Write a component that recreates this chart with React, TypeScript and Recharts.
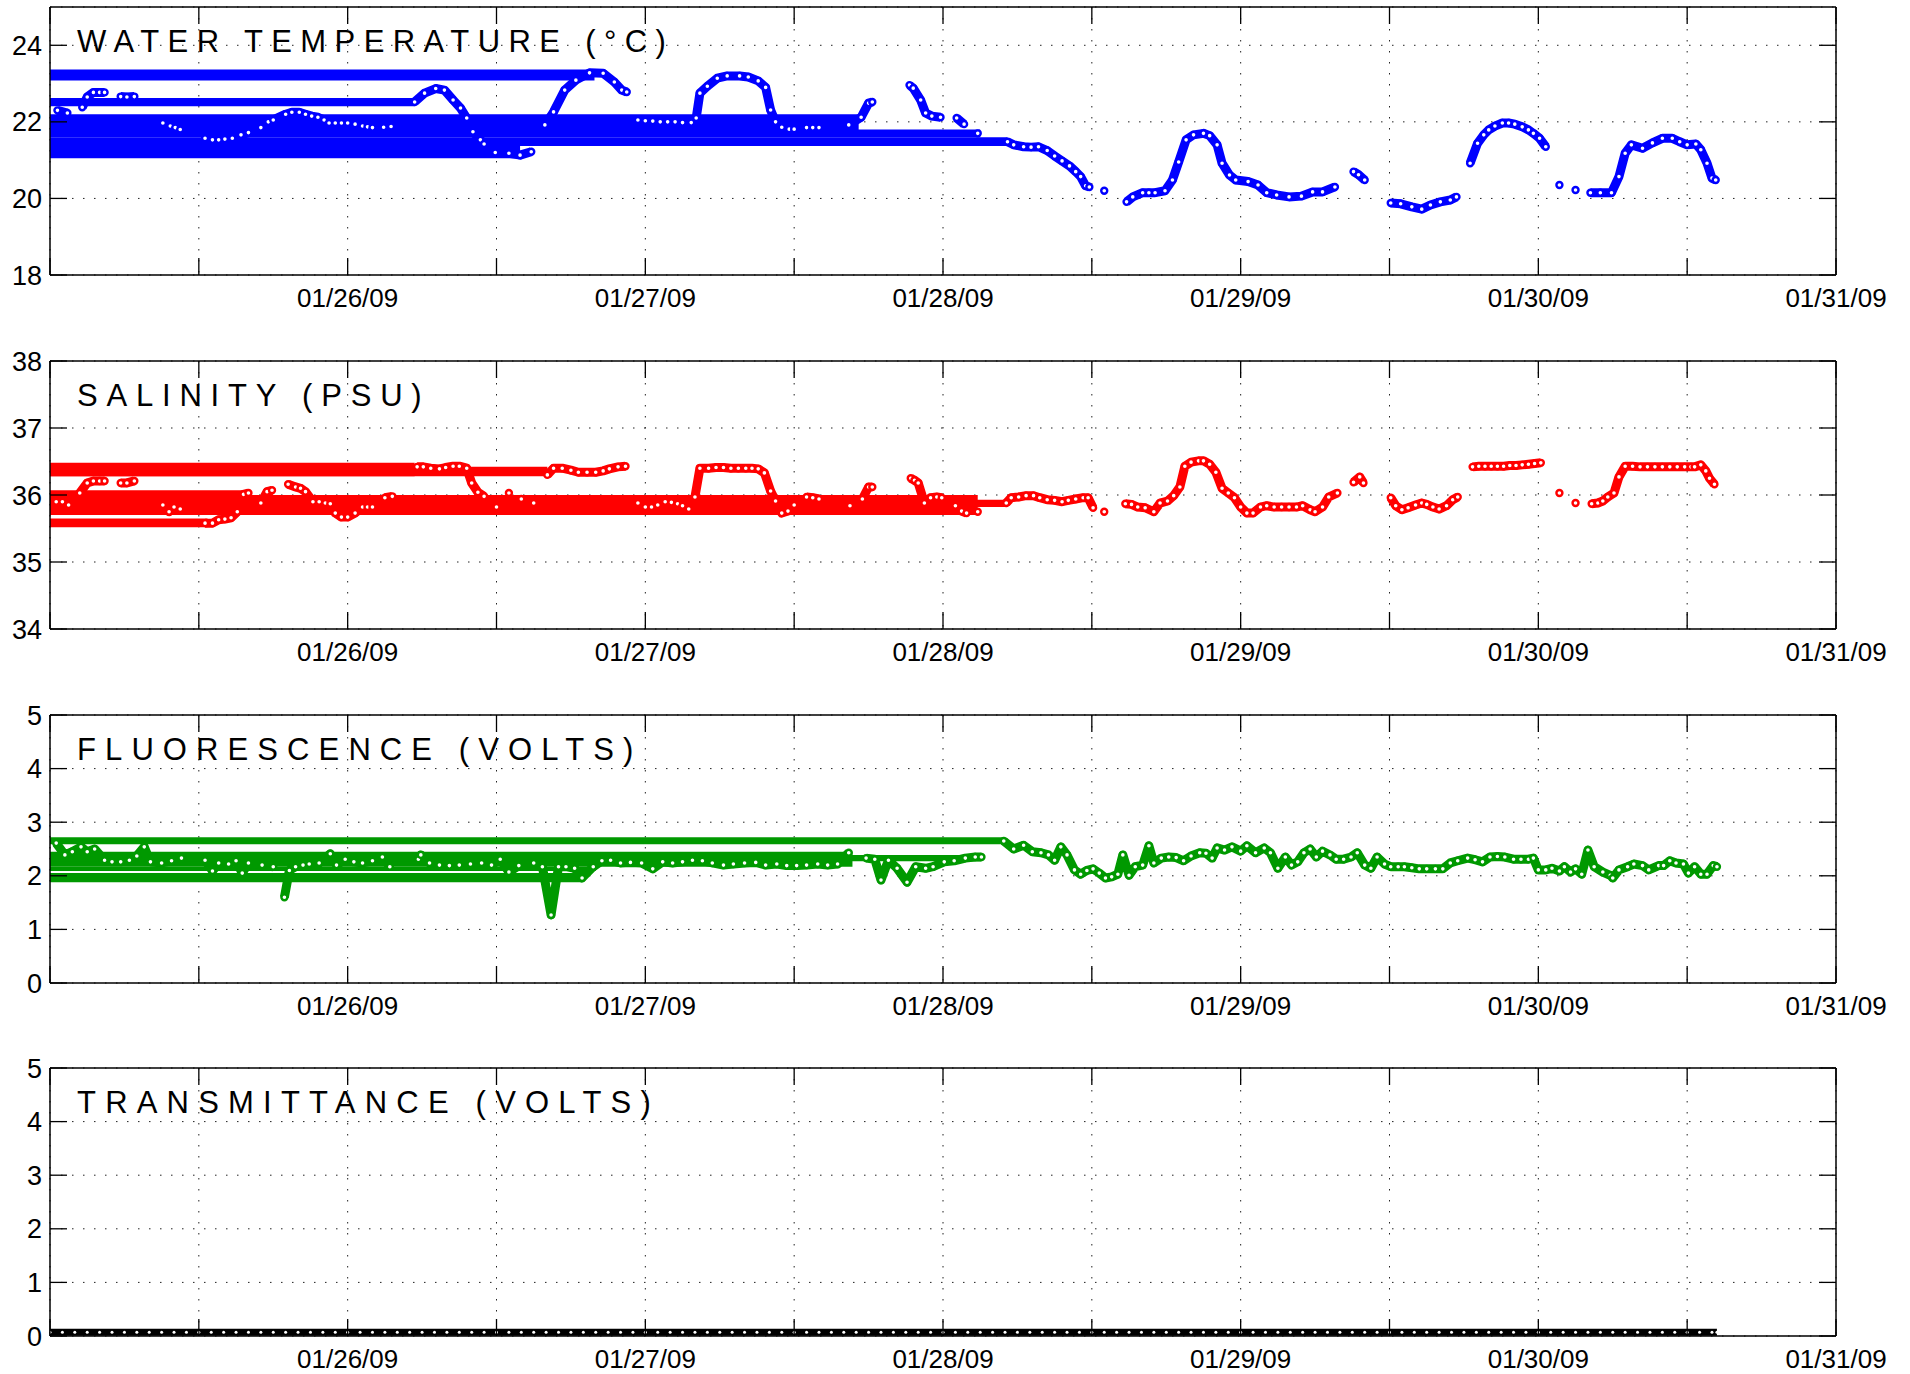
import React from 'react';
import { LineChart, Line, XAxis, YAxis, CartesianGrid, ReferenceArea } from 'recharts';

// hours since 01/25/09 00:00, value
type Pt = [number, number];
// [x1, x2, y1, y2] : horizontal bands left by the wrapped-back line
type Band = [number, number, number, number];

const HALF_DAY_TICKS = [0, 12, 24, 36, 48, 60, 72, 84, 96, 108, 120, 132, 144];
const DAY_TICKS = [24, 48, 72, 96, 120, 144];
const DAY_LABELS = ['01/26/09', '01/27/09', '01/28/09', '01/29/09', '01/30/09', '01/31/09'];

const TEMP_TICKS = [18, 20, 22, 24];
const SAL_TICKS = [34, 35, 36, 37, 38];
const VOLT_TICKS = [0, 1, 2, 3, 4, 5];

const TEMP_BANDS: Band[] = [
  [0, 43.9, 23.08, 23.37],
  [0, 29.4, 22.41, 22.62],
  [0, 65.2, 21.62, 22.2],
  [0, 75, 21.6, 21.8],
  [0, 77.2, 21.37, 21.6],
  [0, 37.9, 21.05, 21.37],
];

const TEMP_SEGMENTS: Pt[][] = [
  [[0.6, 22.3], [1.4, 22.23]],
  [[2.6, 22.38], [3.0, 22.65], [3.5, 22.77], [4.0, 22.77], [4.4, 22.77]],
  [[5.7, 22.66], [6.2, 22.65], [6.8, 22.66]],
  [[9.1, 21.97], [9.7, 21.89], [10.1, 21.85], [10.5, 21.8]],
  [[12.5, 21.57], [13.1, 21.53], [13.6, 21.53], [14.1, 21.55], [14.7, 21.57], [15.4, 21.66], [16.0, 21.72],
    [17.0, 21.85], [17.6, 22.0], [18.0, 22.05], [19.0, 22.2], [19.5, 22.25], [20.1, 22.25], [20.6, 22.2],
    [21.1, 22.15], [21.6, 22.12], [22.1, 22.05], [22.5, 21.97], [23.0, 21.97], [23.5, 21.97], [24.0, 21.97],
    [24.6, 21.94], [25.2, 21.89], [25.6, 21.87], [26.0, 21.85]],
  [[26.9, 21.86], [27.5, 21.88]],
  [[29.4, 22.52], [30.2, 22.75], [31.1, 22.87], [31.8, 22.83], [32.5, 22.57], [33.1, 22.36], [33.6, 22.1],
    [34.1, 21.74], [34.7, 21.53], [35.0, 21.42], [35.9, 21.2], [37.0, 21.18], [37.9, 21.13], [38.8, 21.22]],
  [[39.9, 21.92], [40.6, 22.26], [41.5, 22.83], [42.4, 23.09], [43.5, 23.28], [44.6, 23.27], [45.5, 23.04],
    [46.1, 22.83], [46.5, 22.78]],
  [[47.4, 22.05], [48.0, 22.03], [48.6, 22.02], [49.2, 22.0], [49.8, 22.0], [50.4, 22.0], [51.0, 21.98],
    [51.7, 21.98], [52.1, 22.1], [52.4, 22.75], [53.0, 22.93], [53.8, 23.14], [54.6, 23.2], [55.6, 23.2],
    [56.3, 23.17], [57.1, 23.07], [57.7, 22.9], [58.1, 22.31], [58.5, 22.0], [59.0, 21.86], [59.6, 21.81], [60.0, 21.81]],
  [[61.0, 21.85], [61.5, 21.85], [62.0, 21.85]],
  [[64.4, 21.92], [65.4, 22.12], [66.0, 22.49], [66.3, 22.52]],
  [[69.3, 22.96], [69.6, 22.88], [70.2, 22.57], [70.6, 22.23], [71.1, 22.15], [71.8, 22.12]],
  [[73.1, 22.1], [73.7, 21.94]],
  [[74.8, 21.7]],
  [[77.2, 21.48], [77.7, 21.4], [78.5, 21.35], [79.1, 21.34], [79.7, 21.35], [80.4, 21.25], [81.0, 21.11],
    [81.6, 20.98], [82.2, 20.85], [82.7, 20.7], [83.1, 20.57], [83.5, 20.33], [83.8, 20.3]],
  [[85.0, 20.2]],
  [[86.8, 19.91], [87.3, 20.04], [88.1, 20.15], [88.6, 20.15], [89.1, 20.15], [89.9, 20.2], [90.5, 20.48],
    [91.0, 20.95], [91.6, 21.53], [92.2, 21.66], [93.0, 21.7], [93.5, 21.64], [94.1, 21.4], [94.5, 20.92],
    [95.1, 20.61], [95.6, 20.48], [96.6, 20.44], [97.4, 20.35], [98.1, 20.15], [98.9, 20.09], [99.9, 20.04],
    [100.9, 20.06], [101.8, 20.17], [102.6, 20.17], [103.6, 20.3]],
  [[105.1, 20.7], [105.5, 20.62], [106.0, 20.48]],
  [[108.1, 19.88], [108.9, 19.86], [109.8, 19.78], [110.6, 19.72], [111.3, 19.83], [112.1, 19.91],
    [112.9, 19.96], [113.4, 20.04]],
  [[114.5, 20.92], [115.1, 21.44], [115.6, 21.66], [116.0, 21.79], [116.5, 21.89], [117.1, 21.97],
    [117.6, 21.97], [118.1, 21.94], [118.7, 21.87], [119.2, 21.79], [119.6, 21.7], [120.1, 21.57], [120.6, 21.35]],
  [[121.7, 20.35]],
  [[123.0, 20.22]],
  [[124.2, 20.15], [125.0, 20.15], [125.9, 20.15], [126.5, 20.57], [127.0, 21.18], [127.5, 21.4], [128.4, 21.31],
    [129.2, 21.45], [130.0, 21.57], [130.8, 21.57], [131.4, 21.48], [132.0, 21.4], [132.7, 21.42], [133.1, 21.27],
    [133.6, 20.92], [134.0, 20.53], [134.3, 20.48]],
];

const SAL_BANDS: Band[] = [
  [0, 29.4, 36.28, 36.48],
  [0, 40.1, 36.28, 36.42],
  [0, 16, 35.97, 36.07],
  [0, 74.8, 35.7, 36.0],
  [0, 77.2, 35.82, 35.93],
  [0, 12.7, 35.52, 35.65],
];

const SAL_SEGMENTS: Pt[][] = [
  [[0.5, 35.9], [1.0, 35.9], [1.5, 35.85], [2.4, 36.03], [3.0, 36.18], [3.5, 36.21], [4.0, 36.21], [4.4, 36.21]],
  [[5.7, 36.18], [6.2, 36.18], [6.8, 36.21]],
  [[9.1, 35.85], [9.6, 35.75], [10.0, 35.82], [10.5, 35.79]],
  [[12.5, 35.58], [13.1, 35.58], [13.6, 35.63], [14.1, 35.64], [14.6, 35.66], [15.1, 35.75], [15.6, 36.01], [16.0, 36.03]],
  [[17.0, 35.88], [17.5, 36.05], [17.9, 36.07]],
  [[19.2, 36.16], [19.8, 36.12], [20.2, 36.1], [20.6, 36.05], [21.2, 35.9], [21.7, 35.9], [22.2, 35.88],
    [22.6, 35.87], [23.0, 35.73], [23.5, 35.67], [24.0, 35.67], [24.6, 35.73], [25.2, 35.82], [25.6, 35.82], [26.0, 35.82]],
  [[27.0, 35.96], [27.6, 35.98]],
  [[29.6, 36.42], [30.1, 36.42], [30.7, 36.4], [31.4, 36.39], [31.9, 36.41], [32.5, 36.43], [33.0, 36.43],
    [33.6, 36.4], [34.0, 36.18], [34.5, 36.04], [35.0, 35.98]],
  [[36.0, 35.82]],
  [[37.0, 36.03]],
  [[38.0, 35.94]],
  [[39.0, 35.88]],
  [[40.1, 36.3], [40.6, 36.4], [41.3, 36.4], [42.0, 36.37], [42.6, 36.34], [43.3, 36.34], [44.0, 36.34],
    [44.6, 36.36], [45.1, 36.39], [45.8, 36.42], [46.4, 36.43]],
  [[47.4, 35.88], [48.0, 35.82], [48.5, 35.82], [49.0, 35.85], [49.6, 35.9], [50.1, 35.89], [50.6, 35.87],
    [51.0, 35.84], [51.5, 35.79], [52.0, 35.97], [52.4, 36.4], [53.1, 36.4], [53.7, 36.41], [54.3, 36.41],
    [54.9, 36.4], [55.5, 36.4], [56.1, 36.4], [56.6, 36.4], [57.1, 36.39], [57.6, 36.33], [58.1, 36.06],
    [58.5, 35.91], [59.0, 35.73], [59.5, 35.76], [60.0, 35.85]],
  [[61.0, 35.97], [61.5, 35.96], [62.0, 35.94]],
  [[64.5, 35.84], [65.5, 35.94], [66.0, 36.12], [66.3, 36.12]],
  [[69.4, 36.25], [69.7, 36.22], [70.0, 36.18], [70.5, 35.88], [71.0, 35.96], [71.5, 35.97], [71.9, 35.96]],
  [[73.0, 35.84], [73.5, 35.76], [73.9, 35.73]],
  [[74.8, 35.75]],
  [[77.1, 35.88], [77.5, 35.96], [78.1, 35.97], [78.7, 35.99], [79.3, 35.99], [79.8, 35.96], [80.4, 35.93],
    [81.0, 35.92], [81.6, 35.9], [82.1, 35.92], [82.7, 35.94], [83.3, 35.96], [83.7, 35.96], [84.1, 35.81]],
  [[85.0, 35.75]],
  [[86.7, 35.87], [87.2, 35.86], [87.7, 35.82], [88.3, 35.81], [89.0, 35.75], [89.5, 35.88], [90.1, 35.91],
    [90.6, 35.99], [91.1, 36.12], [91.5, 36.43], [92.0, 36.49], [92.6, 36.51], [93.0, 36.51], [93.5, 36.46],
    [94.0, 36.34], [94.5, 36.1], [95.0, 36.03], [95.5, 35.96], [96.0, 35.82], [96.5, 35.73], [97.0, 35.73],
    [97.6, 35.82], [98.1, 35.84], [98.7, 35.82], [99.3, 35.82], [99.9, 35.82], [100.5, 35.82], [101.0, 35.84],
    [101.6, 35.78], [102.0, 35.75], [102.6, 35.82], [103.1, 35.97], [103.8, 36.03]],
  [[105.1, 36.19], [105.6, 36.27], [105.9, 36.18]],
  [[108.1, 35.96], [108.5, 35.84], [109.0, 35.78], [109.5, 35.81], [110.1, 35.85], [110.6, 35.88], [111.0, 35.86],
    [111.5, 35.82], [112.0, 35.79], [112.6, 35.84], [113.1, 35.93], [113.5, 35.97]],
  [[114.7, 36.42], [115.2, 36.43], [115.7, 36.43], [116.2, 36.43], [116.7, 36.43], [117.2, 36.43], [117.7, 36.44],
    [118.2, 36.44], [118.7, 36.45], [119.2, 36.46], [119.7, 36.47], [120.2, 36.48]],
  [[121.7, 36.03]],
  [[123.0, 35.88]],
  [[124.3, 35.87], [124.8, 35.88], [125.2, 35.91], [125.6, 35.97], [126.1, 36.03], [126.5, 36.27], [127.0, 36.43],
    [127.6, 36.43], [128.2, 36.42], [128.8, 36.42], [129.4, 36.42], [130.0, 36.42], [130.6, 36.42], [131.2, 36.42],
    [131.8, 36.42], [132.3, 36.42], [132.6, 36.42], [133.1, 36.45], [133.5, 36.36], [133.8, 36.25], [134.2, 36.16]],
];

const FLUO_BANDS: Band[] = [
  [0, 76.9, 2.59, 2.72],
  [0, 64.7, 2.17, 2.45],
  [0, 75.1, 2.27, 2.39],
  [0, 44, 2.09, 2.17],
  [0, 42.9, 1.88, 2.05],
];

const FLUO_SEGMENTS: Pt[][] = [
  [[0.5, 2.61], [1.2, 2.39], [1.8, 2.45], [2.5, 2.54], [3.0, 2.45], [3.6, 2.5], [4.4, 2.29], [5.0, 2.26],
    [5.7, 2.26], [6.4, 2.29], [7.0, 2.37], [7.6, 2.54], [8.1, 2.26], [9.0, 2.24], [9.8, 2.28], [10.6, 2.33]],
  [[12.5, 2.29], [13.1, 2.09], [13.6, 2.24], [14.4, 2.22], [15.0, 2.28], [15.5, 2.05], [16.0, 2.24], [17.1, 2.2], [18.0, 2.17]],
  [[18.9, 1.6], [19.3, 2.1], [19.8, 2.17], [20.4, 2.2], [20.9, 2.22], [21.7, 2.24], [22.6, 2.41], [23.1, 2.2],
    [23.8, 2.31], [24.5, 2.26], [25.2, 2.24], [26.0, 2.28], [26.8, 2.35], [27.4, 2.17]],
  [[29.7, 2.31], [29.9, 2.39], [30.6, 2.24], [31.4, 2.2], [32.2, 2.19], [33.0, 2.2], [33.9, 2.22], [34.8, 2.24],
    [35.6, 2.2], [36.3, 2.31], [37.0, 2.07], [37.8, 2.19], [39.0, 2.24], [39.7, 2.17], [40.4, 1.27], [41.0, 2.17],
    [41.6, 2.17], [42.3, 2.14], [42.9, 1.96], [43.8, 2.17], [44.5, 2.28], [45.2, 2.29], [46.0, 2.24], [46.8, 2.25],
    [47.7, 2.24], [48.6, 2.13], [49.4, 2.26], [50.2, 2.24], [51.0, 2.26], [51.8, 2.29], [52.6, 2.28], [53.4, 2.24],
    [54.3, 2.2], [55.1, 2.22], [56.0, 2.24], [56.9, 2.25], [57.7, 2.2], [58.6, 2.22], [59.4, 2.19], [60.2, 2.19],
    [61.0, 2.2], [61.9, 2.22], [62.7, 2.2], [63.5, 2.22], [64.4, 2.43]],
  [[65.8, 2.33], [66.5, 2.31], [67.0, 1.92], [67.6, 2.29], [68.3, 2.14], [69.1, 1.88], [69.8, 2.17], [70.6, 2.14],
    [71.2, 2.17], [72.1, 2.26], [72.9, 2.28], [73.8, 2.33], [74.6, 2.35], [75.1, 2.35]],
  [[76.9, 2.65], [77.7, 2.5], [78.5, 2.57], [79.2, 2.45], [79.9, 2.43], [80.5, 2.39], [81.0, 2.29], [81.5, 2.54],
    [82.0, 2.39], [82.6, 2.11], [83.1, 2.03], [83.6, 2.1], [84.1, 2.13], [84.6, 2.05], [85.1, 1.96], [85.6, 1.98],
    [86.1, 2.03], [86.5, 2.39], [87.0, 2.01], [87.5, 2.17], [88.1, 2.2], [88.6, 2.56], [89.0, 2.24], [89.6, 2.33],
    [90.2, 2.35], [90.8, 2.34], [91.4, 2.28], [92.0, 2.37], [92.7, 2.43], [93.2, 2.42], [93.7, 2.33], [94.1, 2.52],
    [94.7, 2.48], [95.3, 2.54], [96.0, 2.46], [96.5, 2.56], [97.2, 2.43], [97.9, 2.52], [98.4, 2.43], [99.0, 2.14],
    [99.6, 2.35], [100.1, 2.2], [100.6, 2.26], [101.1, 2.43], [101.6, 2.5], [102.1, 2.35], [102.6, 2.46], [103.2, 2.39],
    [103.7, 2.31], [104.3, 2.31], [104.9, 2.35], [105.4, 2.43], [106.0, 2.2], [106.5, 2.14], [107.0, 2.35], [107.6, 2.22],
    [108.1, 2.17], [108.7, 2.17], [109.2, 2.17], [109.8, 2.15], [110.4, 2.13], [111.0, 2.13], [111.7, 2.13], [112.3, 2.13],
    [112.9, 2.24], [113.5, 2.28], [114.3, 2.33], [114.9, 2.3], [115.5, 2.26], [116.1, 2.35], [116.7, 2.36], [117.3, 2.35],
    [118.0, 2.31], [118.6, 2.31], [119.2, 2.31], [119.6, 2.33], [120.0, 2.11], [120.6, 2.11], [121.1, 2.14], [121.7, 2.09],
    [122.1, 2.17], [122.6, 2.07], [123.0, 2.13], [123.5, 2.03], [124.0, 2.48], [124.5, 2.17], [125.2, 2.07], [125.8, 2.01],
    [126.0, 1.96], [126.5, 2.11], [127.2, 2.17], [127.7, 2.22], [128.4, 2.19], [128.9, 2.11], [129.7, 2.19], [130.1, 2.19],
    [130.6, 2.28], [131.1, 2.24], [131.7, 2.22], [132.1, 2.05], [132.6, 2.17], [133.1, 2.03], [133.6, 2.03], [134.1, 2.19],
    [134.4, 2.17]],
];

const TRANS_HOURS = [
  0, 1, 2, 3, 4, 5, 6, 7, 8, 9, 10, 11, 12, 13, 14, 15, 16, 17, 18, 19, 20, 21, 22, 23, 24, 25, 26, 27, 28, 29,
  30, 31, 32, 33, 34, 35, 36, 37, 38, 39, 40, 41, 42, 43, 44, 45, 46, 47, 48, 49, 50, 51, 52, 53, 54, 55, 56, 57,
  58, 59, 60, 61, 62, 63, 64, 65, 66, 67, 68, 69, 70, 71, 72, 73, 74, 75, 76, 77, 78, 79, 80, 81, 82, 83, 84, 85,
  86, 87, 88, 89, 90, 91, 92, 93, 94, 95, 96, 97, 98, 99, 100, 101, 102, 103, 104, 105, 106, 107, 108, 109, 110,
  111, 112, 113, 114, 115, 116, 117, 118, 119, 120, 121, 122, 123, 124, 125, 126, 127, 128, 129, 130, 131, 132,
  133, 134, 134.4,
];
const TRANS_VALUES = [
  0.07, 0.07, 0.07, 0.07, 0.07, 0.07, 0.07, 0.07, 0.07, 0.07, 0.07, 0.07, 0.07, 0.07, 0.07, 0.07, 0.07, 0.07,
  0.07, 0.07, 0.07, 0.07, 0.07, 0.07, 0.07, 0.07, 0.07, 0.07, 0.07, 0.07, 0.07, 0.07, 0.07, 0.07, 0.07, 0.07,
  0.07, 0.07, 0.07, 0.07, 0.07, 0.07, 0.07, 0.07, 0.07, 0.07, 0.07, 0.07, 0.07, 0.07, 0.07, 0.07, 0.07, 0.07,
  0.07, 0.07, 0.07, 0.07, 0.07, 0.07, 0.07, 0.07, 0.07, 0.07, 0.07, 0.07, 0.07, 0.07, 0.07, 0.07, 0.07, 0.07,
  0.07, 0.07, 0.07, 0.07, 0.07, 0.07, 0.07, 0.07, 0.07, 0.07, 0.07, 0.07, 0.07, 0.07, 0.07, 0.07, 0.07, 0.07,
  0.07, 0.07, 0.07, 0.07, 0.07, 0.07, 0.07, 0.07, 0.07, 0.07, 0.07, 0.07, 0.07, 0.07, 0.07, 0.07, 0.07, 0.07,
  0.07, 0.07, 0.07, 0.07, 0.07, 0.07, 0.07, 0.07, 0.07, 0.07, 0.07, 0.07, 0.07, 0.07, 0.07, 0.07, 0.07, 0.07,
  0.07, 0.07, 0.07, 0.07, 0.07, 0.07, 0.07, 0.07, 0.07, 0.07,
];

const FONT = "'Liberation Sans', Arial, Helvetica, sans-serif";
const W = 1910;
const EXTRA = 20; // room above each plot so the top tick label is not clipped
const PLOT_TOP = 7;
const PLOT_H = 268;
const LEFT = 50;
const RIGHT = 74;
const TICK = 17;
const AXIS = { stroke: '#000', strokeWidth: 1.5 };

const PANELS = [
  { title: 'WATER TEMPERATURE (°C)', spacing: 8.4, color: '#0000ff', domain: [18, 25], ticks: TEMP_TICKS, bands: TEMP_BANDS, segments: TEMP_SEGMENTS, height: 354 },
  { title: 'SALINITY (PSU)', spacing: 8.8, color: '#ff0000', domain: [34, 38], ticks: SAL_TICKS, bands: SAL_BANDS, segments: SAL_SEGMENTS, height: 354 },
  { title: 'FLUORESCENCE (VOLTS)', spacing: 9.1, color: '#009900', domain: [0, 5], ticks: VOLT_TICKS, bands: FLUO_BANDS, segments: FLUO_SEGMENTS, height: 353 },
  { title: 'TRANSMITTANCE (VOLTS)', spacing: 9.2, color: '#000000', domain: [0, 5], ticks: VOLT_TICKS, bands: [] as Band[],
    segments: [TRANS_HOURS.map((h, i) => [h, TRANS_VALUES[i]] as Pt)], height: 313, thin: true },
];

const BottomTick = (props: any) => {
  const { x, y, payload } = props;
  const i = DAY_TICKS.indexOf(payload.value);
  return (
    <g>
      <line x1={x} x2={x} y1={y} y2={y - TICK} stroke="#000" strokeWidth={1.3} />
      {i >= 0 && (
        <text x={x} y={y + 32} textAnchor="middle" fontSize={26} fontFamily={FONT} fill="#000">
          {DAY_LABELS[i]}
        </text>
      )}
    </g>
  );
};

const TopTick = (props: any) => {
  const { x, y } = props;
  return <line x1={x} x2={x} y1={y} y2={y + TICK} stroke="#000" strokeWidth={1.3} />;
};

const LeftTick = (props: any) => {
  const { x, y, payload } = props;
  return (
    <g>
      <line x1={x} x2={x + TICK} y1={y} y2={y} stroke="#000" strokeWidth={1.3} />
      <text x={x - 8} y={y + 9.5} textAnchor="end" fontSize={27} fontFamily={FONT} fill="#000">
        {payload.value}
      </text>
    </g>
  );
};

const RightTick = (props: any) => {
  const { x, y } = props;
  return <line x1={x} x2={x - TICK} y1={y} y2={y} stroke="#000" strokeWidth={1.3} />;
};

function Panel({ p }: { p: (typeof PANELS)[number] }) {
  const axisH = p.height - PLOT_TOP - PLOT_H;
  const h = p.height + EXTRA;
  return (
    <div style={{ position: 'relative', width: W, height: p.height }}>
      <div style={{ position: 'absolute', left: 0, top: -EXTRA, width: W, height: h }}>
        <LineChart width={W} height={h} margin={{ top: EXTRA + PLOT_TOP - 1, right: RIGHT - 1, bottom: 0, left: LEFT - 1 }}>
          <CartesianGrid stroke="#222" strokeWidth={1} strokeDasharray="1.5 9.5" />
          <XAxis type="number" dataKey="x" domain={[0, 144]} ticks={HALF_DAY_TICKS} interval={0} allowDataOverflow
            tick={BottomTick} tickLine={false} tickSize={0} tickMargin={0} height={axisH} axisLine={AXIS} />
          <XAxis xAxisId="top" orientation="top" type="number" dataKey="x" domain={[0, 144]} ticks={HALF_DAY_TICKS}
            interval={0} allowDataOverflow tick={TopTick} tickLine={false} tickSize={0} tickMargin={0} height={1} axisLine={AXIS} />
          <YAxis type="number" domain={p.domain} ticks={p.ticks} interval={0} allowDataOverflow
            tick={LeftTick} tickLine={false} tickSize={0} tickMargin={0} width={1} axisLine={AXIS} />
          <YAxis yAxisId="right" orientation="right" type="number" domain={p.domain} ticks={p.ticks} interval={0}
            allowDataOverflow tick={RightTick} tickLine={false} tickSize={0} tickMargin={0} width={1} axisLine={AXIS} />
          {p.bands.map((b, i) => (
            <ReferenceArea key={'b' + i} x1={b[0]} x2={b[1]} y1={b[2]} y2={b[3]} fill={p.color} fillOpacity={1} stroke="none" />
          ))}
          {p.segments.map((seg, i) => (
            <Line
              key={'s' + i}
              data={seg.map(([x, y]) => ({ x, y }))}
              dataKey="y"
              type="linear"
              stroke={p.color}
              strokeWidth={p.thin ? 7 : 9}
              strokeLinejoin="round"
              dot={p.thin ? { r: 1.5, fill: '#fff', stroke: 'none' } : { r: 3, fill: '#fff', stroke: p.color, strokeWidth: 2.4 }}
              activeDot={false}
              isAnimationActive={false}
            />
          ))}
        </LineChart>
        <svg width={W} height={h} style={{ position: 'absolute', left: 0, top: 0, pointerEvents: 'none' }}>
          <text x={77} y={EXTRA + PLOT_TOP + 45} fontSize={31} letterSpacing={p.spacing} fontFamily={FONT} fill="#000">
            {p.title}
          </text>
        </svg>
      </div>
    </div>
  );
}

export default function App() {
  return (
    <div style={{ width: W, height: 1374, overflow: 'hidden', background: '#fff' }}>
      <style>{'body{margin:0;overflow:hidden}'}</style>
      {PANELS.map((p) => (
        <Panel key={p.title} p={p} />
      ))}
    </div>
  );
}
